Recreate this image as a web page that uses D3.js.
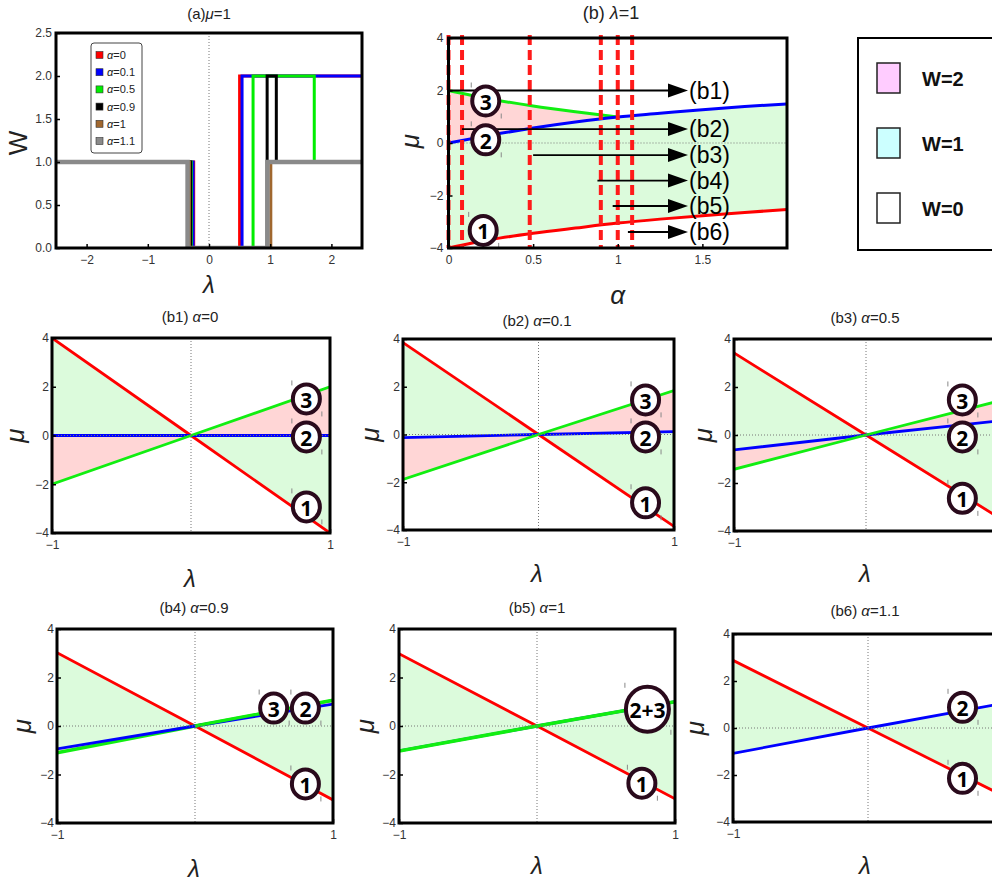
<!DOCTYPE html>
<html><head><meta charset="utf-8">
<script src="https://cdn.jsdelivr.net/npm/d3@7"></script>
<style>body{margin:0;background:#fff;} svg{display:block;}</style>
</head><body>
<svg id="c" width="992" height="880"></svg>
<script>
// ================= DATA =================
// Panel (a): W versus lambda (mu = 1), one step curve per alpha
const aAlphaLabels = ["0", "0.1", "0.5", "0.9", "1", "1.1"];
const aColors = ["#ff0000", "#0000ff", "#00ee00", "#000000", "#a0672f", "#8a8a8a"];
const aWidths = [3, 3, 3, 3, 3, 4.5];
const aAlpha0  = [[-2.5,1],[-0.25,1],[-0.25,0],[0.5,0],[0.5,2],[2.5,2]];
const aAlpha01 = [[-2.5,1],[-0.26,1],[-0.26,0],[0.54,0],[0.54,2],[2.5,2]];
const aAlpha05 = [[-2.5,1],[-0.29,1],[-0.29,0],[0.72,0],[0.72,2],[1.72,2],[1.72,1],[2.5,1]];
const aAlpha09 = [[-2.5,1],[-0.3,1],[-0.3,0],[0.95,0],[0.95,2],[1.1,2],[1.1,1],[2.5,1]];
const aAlpha1  = [[-2.5,1],[-0.32,1],[-0.32,0],[1.01,0],[1.01,1],[2.5,1]];
const aAlpha11 = [[-2.5,1],[-0.35,1],[-0.35,0],[0.955,0],[0.955,1],[2.5,1]];
const aSeries = [aAlpha0, aAlpha01, aAlpha05, aAlpha09, aAlpha1, aAlpha11];
const aXTicks = [-2, -1, 0, 1, 2];
const aYTicks = [0, 0.5, 1, 1.5, 2, 2.5];

// Panel (b): phase boundaries versus alpha (lambda = 1)
const bAlpha   = [0, 0.25, 0.5, 0.75, 1, 1.25, 1.5, 1.75, 2];
const bRed     = [-4, -3.68, -3.44, -3.24, -3.05, -2.9, -2.77, -2.65, -2.53];
const bBlue    = [0, 0.3, 0.57, 0.8, 0.99, 1.13, 1.27, 1.39, 1.49];
const bGreenAlpha = [0, 0.25, 0.5, 0.75, 1];
const bGreen   = [2, 1.67, 1.41, 1.19, 0.99];
const bDashedAlpha = [0, 0.08, 0.48, 0.9, 1.0, 1.085];
const bArrowStart = [0, 0.08, 0.5, 0.88, 0.97, 1.06];
const bArrowMu    = [2, 0.53, -0.46, -1.43, -2.4, -3.39];
const bArrowEnd   = 1.415;
const bArrowLabels = ["(b1)", "(b2)", "(b3)", "(b4)", "(b5)", "(b6)"];
const bXTicks = [0, 0.5, 1, 1.5];
const bYTicks = [-4, -2, 0, 2, 4];
const bCircles = [{l:"3", a:0.22, m:1.6}, {l:"2", a:0.22, m:0.12}, {l:"1", a:0.205, m:-3.33}];

// Panels (b1)-(b6): lines mu(lambda) at lambda = -1, 0, 1
const lamPts = [-1, 0, 1];
const subAlpha = ["0", "0.1", "0.5", "0.9", "1", "1.1"];
const subRed   = [[4,0,-4], [3.85,0,-3.85], [3.42,0,-3.42], [3.02,0,-3.05], [2.98,0,-3], [2.88,0,-2.88]];
const subBlue  = [[0,0,0], [-0.13,0,0.12], [-0.62,0,0.58], [-0.94,0,0.9], [-1.03,0,1.0], [-1.08,0,1.05]];
const subGreen = [[-2,0,2], [-1.88,0,1.84], [-1.43,0,1.41], [-1.1,0,1.06], [-1.03,0,1.0], null];
const subCircles = [
  [{l:"3",x:0.83,y:1.5},{l:"2",x:0.83,y:-0.06},{l:"1",x:0.83,y:-2.93}],
  [{l:"3",x:0.79,y:1.45},{l:"2",x:0.79,y:-0.1},{l:"1",x:0.79,y:-2.86}],
  [{l:"3",x:0.73,y:1.46},{l:"2",x:0.73,y:-0.08},{l:"1",x:0.73,y:-2.64}],
  [{l:"3",x:0.57,y:0.74},{l:"2",x:0.8,y:0.74},{l:"1",x:0.8,y:-2.39}],
  [{l:"2+3",x:0.8,y:0.69,big:true},{l:"1",x:0.76,y:-2.36}],
  [{l:"2",x:0.7,y:0.88},{l:"1",x:0.7,y:-2.14}]
];
const subXTicksFull = [-1, 1];
const subXTicksCut = [-1];
const subYTicks = [-4, -2, 0, 2, 4];

// Legend (right)
const legLabels = ["W=2", "W=1", "W=0"];
const legColors = ["#ffccff", "#ccffff", "#ffffff"];

// ================= STYLE =================
const FONT = "'Liberation Sans', Arial, sans-serif";
const FILL_G = "#dcfbdc", FILL_P = "#ffd6d6";
const C_RED = "#ff0000", C_BLUE = "#0000ff", C_GREEN = "#11ee11";
const svg = d3.select("#c");

function panel(x0, y0, w, h, xd, yd) {
  return {x0, y0, w, h,
    xs: d3.scaleLinear().domain(xd).range([x0, x0 + w]),
    ys: d3.scaleLinear().domain(yd).range([y0 + h, y0])};
}
let clipId = 0;
function clipG(P) {
  const id = "clip" + (clipId++);
  svg.append("clipPath").attr("id", id).append("rect")
    .attr("x", P.x0).attr("y", P.y0).attr("width", P.w).attr("height", P.h);
  return svg.append("g").attr("clip-path", `url(#${id})`);
}
function frame(P) {
  svg.append("rect").attr("x", P.x0).attr("y", P.y0).attr("width", P.w).attr("height", P.h)
    .attr("fill", "none").attr("stroke", "#000").attr("stroke-width", 3);
}
function axes(P, xt, yt, xf, yf, xpad, ypad) {
  const gx = svg.append("g").attr("transform", `translate(0,${P.y0 + P.h})`)
    .call(d3.axisBottom(P.xs).tickValues(xt).tickSize(-4).tickPadding(xpad).tickFormat(xf));
  const gy = svg.append("g").attr("transform", `translate(${P.x0},0)`)
    .call(d3.axisLeft(P.ys).tickValues(yt).tickSize(-4).tickPadding(ypad).tickFormat(yf));
  [gx, gy].forEach(g => {
    g.select(".domain").remove();
    g.selectAll("line").attr("stroke", "#000").attr("stroke-width", 1.5);
    g.selectAll("text").attr("font-family", FONT).attr("font-size", 12).attr("fill", "#333");
  });
}
function dotted(g, x1, y1, x2, y2) {
  g.append("line").attr("x1", x1).attr("y1", y1).attr("x2", x2).attr("y2", y2)
    .attr("stroke", "#777").attr("stroke-width", 1).attr("stroke-dasharray", "1,2");
}
function richText(x, y, parts, size, anchor) {
  const t = svg.append("text").attr("x", x).attr("y", y).attr("font-family", FONT)
    .attr("font-size", size).attr("fill", "#222").attr("text-anchor", anchor || "middle");
  parts.forEach(p => t.append("tspan").text(p[0]).attr("font-style", p[1] ? "italic" : "normal"));
  return t;
}
function axisLabel(x, y, txt, size, rotate) {
  const t = svg.append("text").attr("font-family", FONT).attr("font-size", size)
    .attr("font-style", txt === "W" ? "normal" : "italic").attr("fill", "#222")
    .attr("text-anchor", "middle").attr("dominant-baseline", "central").text(txt);
  if (rotate) t.attr("transform", `translate(${x},${y}) rotate(-90)`);
  else t.attr("x", x).attr("y", y);
}
function circleMark(cx, cy, label, big) {
  const rx = big ? 21.5 : 13.5, ry = big ? 22.5 : 14.5;
  svg.append("line").attr("x1", cx - rx - 1).attr("x2", cx - rx - 1).attr("y1", cy - ry - 4).attr("y2", cy - ry + 1)
    .attr("stroke", "#888").attr("stroke-width", 1);
  svg.append("line").attr("x1", cx + rx + 2).attr("x2", cx + rx + 2).attr("y1", cy + ry - 2).attr("y2", cy + ry + 3)
    .attr("stroke", "#888").attr("stroke-width", 1);
  svg.append("ellipse").attr("cx", cx).attr("cy", cy).attr("rx", rx).attr("ry", ry)
    .attr("fill", "#fff").attr("stroke", "#2a0a1c").attr("stroke-width", 4);
  svg.append("text").attr("x", cx).attr("y", cy + 1).attr("text-anchor", "middle")
    .attr("dominant-baseline", "central").attr("font-family", "'Open Sans', sans-serif")
    .attr("font-weight", "bold").attr("font-size", big ? 21 : 21).attr("fill", "#000").text(label);
}

// ================= PANEL (a) =================
{
  const P = panel(56, 33, 306, 215, [-2.5, 2.5], [0, 2.5]);
  const g = clipG(P);
  dotted(g, P.xs(0), P.y0, P.xs(0), P.y0 + P.h);
  const line = d3.line().x(d => P.xs(d[0])).y(d => P.ys(d[1]));
  aSeries.forEach((s, i) => {
    g.append("path").attr("d", line(s)).attr("fill", "none")
      .attr("stroke", aColors[i]).attr("stroke-width", aWidths[i]).attr("stroke-linejoin", "miter");
  });
  frame(P);
  axes(P, aXTicks, aYTicks, d3.format("d"), d3.format(".1f"), 7, 4);
  richText(P.xs(0), 19, [["(a)", 0], ["μ", 1], ["=1", 0]], 15);
  axisLabel(18, 143, "W", 26, true);
  axisLabel(P.xs(0), 284, "λ", 24, false);
  // legend
  const lg = svg.append("g");
  lg.append("rect").attr("x", 91).attr("y", 43).attr("width", 51).attr("height", 110).attr("rx", 3)
    .attr("fill", "#fff").attr("stroke", "#444").attr("stroke-width", 1);
  aAlphaLabels.forEach((lab, i) => {
    const y = 55 + i * 17.2;
    lg.append("rect").attr("x", 96).attr("y", y - 3.5).attr("width", 7).attr("height", 7)
      .attr("fill", aColors[i]).attr("stroke", "#333").attr("stroke-width", 0.6);
    const t = lg.append("text").attr("x", 107).attr("y", y).attr("dominant-baseline", "central")
      .attr("font-family", FONT).attr("font-size", 11).attr("fill", "#222");
    t.append("tspan").attr("font-style", "italic").text("α");
    t.append("tspan").text("=" + lab);
  });
}

// ================= PANEL (b) =================
{
  const P = panel(448.5, 38, 338.5, 210, [0, 2], [-4, 4]);
  const g = clipG(P);
  const idx = d3.range(bAlpha.length), idxG = d3.range(bGreenAlpha.length);
  const areaRB = d3.area().curve(d3.curveMonotoneX).x(i => P.xs(bAlpha[i])).y0(i => P.ys(bRed[i])).y1(i => P.ys(bBlue[i]));
  const areaBG = d3.area().curve(d3.curveMonotoneX).x(i => P.xs(bGreenAlpha[i])).y0(i => P.ys(bBlue[i])).y1(i => P.ys(bGreen[i]));
  g.append("path").attr("d", areaRB(idx)).attr("fill", FILL_G);
  g.append("path").attr("d", areaBG(idxG)).attr("fill", FILL_P);
  dotted(g, P.x0, P.ys(0), P.x0 + P.w, P.ys(0));
  const mk = (xa, ya) => d3.line().curve(d3.curveMonotoneX).x(i => P.xs(xa[i])).y(i => P.ys(ya[i]));
  g.append("path").attr("d", mk(bAlpha, bRed)(idx)).attr("fill", "none").attr("stroke", C_RED).attr("stroke-width", 3);
  g.append("path").attr("d", mk(bGreenAlpha, bGreen)(idxG)).attr("fill", "none").attr("stroke", C_GREEN).attr("stroke-width", 3);
  g.append("path").attr("d", mk(bAlpha, bBlue)(idx)).attr("fill", "none").attr("stroke", C_BLUE).attr("stroke-width", 3);
  // dashed verticals
  bDashedAlpha.forEach(a => {
    svg.append("line").attr("x1", P.xs(a)).attr("x2", P.xs(a)).attr("y1", P.y0 - 3).attr("y2", P.y0 + P.h)
      .attr("stroke", "#ff1a1a").attr("stroke-width", 4).attr("stroke-dasharray", "10,5");
  });
  // arrows
  bArrowStart.forEach((a, i) => {
    const y = P.ys(bArrowMu[i]), xe = P.xs(bArrowEnd);
    svg.append("line").attr("x1", P.xs(a)).attr("x2", xe - 18).attr("y1", y).attr("y2", y)
      .attr("stroke", "#000").attr("stroke-width", 1.8);
    svg.append("path").attr("d", `M${xe},${y} L${xe - 20},${y - 7} L${xe - 20},${y + 7} Z`).attr("fill", "#000");
    svg.append("text").attr("x", xe + 1).attr("y", y).attr("dominant-baseline", "central")
      .attr("font-family", FONT).attr("font-size", 23).attr("fill", "#000").text(bArrowLabels[i]);
  });
  bCircles.forEach(c => circleMark(P.xs(c.a), P.ys(c.m), c.l, false));
  frame(P);
  axes(P, bXTicks, bYTicks, d3.format("~g"), d3.format("d"), 7, 5);
  richText(P.xs(0.96), 19, [["(b) ", 0], ["λ", 1], ["=1", 0]], 18);
  axisLabel(410, 141, "μ", 26, true);
  axisLabel(P.xs(1), 295, "α", 26, false);
}

// ================= RIGHT LEGEND =================
{
  svg.append("rect").attr("x", 858).attr("y", 38).attr("width", 150).attr("height", 212)
    .attr("fill", "#fff").attr("stroke", "#000").attr("stroke-width", 2);
  legLabels.forEach((lab, i) => {
    const y = 63 + i * 65;
    svg.append("rect").attr("x", 877).attr("y", y).attr("width", 23).attr("height", 30)
      .attr("fill", legColors[i]).attr("stroke", "#222").attr("stroke-width", 1.5);
    svg.append("text").attr("x", 922).attr("y", y + 16).attr("dominant-baseline", "central")
      .attr("font-family", FONT).attr("font-weight", "bold").attr("font-size", 20).attr("fill", "#111").text(lab);
  });
}

// ================= PANELS (b1)-(b6) =================
const subFrames = [
  {x:52, y:338, w:278, h:195, tx:190, ty:322, lx:190, ly:578, mx:15},
  {x:403, y:339, w:271, h:191, tx:537, ty:326, lx:537, ly:573, mx:370},
  {x:734, y:339, w:264, h:192, tx:865, ty:323, lx:865, ly:573, mx:703},
  {x:57, y:629, w:276, h:194, tx:194, ty:613, lx:194, ly:868, mx:22},
  {x:399, y:629, w:276, h:194, tx:537, ty:613, lx:537, ly:865, mx:365},
  {x:733, y:634, w:270, h:188, tx:865, ty:616, lx:865, ly:865, mx:695}
];
subFrames.forEach((F, k) => {
  const P = panel(F.x, F.y, F.w, F.h, [-1, 1], [-4, 4]);
  const g = clipG(P);
  const idx = d3.range(lamPts.length);
  const red = subRed[k], blue = subBlue[k], green = subGreen[k];
  g.append("path").attr("d", d3.area().x(i => P.xs(lamPts[i])).y0(i => P.ys(red[i])).y1(i => P.ys(blue[i]))(idx)).attr("fill", FILL_G);
  if (green) g.append("path").attr("d", d3.area().x(i => P.xs(lamPts[i])).y0(i => P.ys(blue[i])).y1(i => P.ys(green[i]))(idx)).attr("fill", FILL_P);
  const ln = ys => d3.line().x(i => P.xs(lamPts[i])).y(i => P.ys(ys[i]))(idx);
  g.append("path").attr("d", ln(red)).attr("fill", "none").attr("stroke", C_RED).attr("stroke-width", 2.8);
  if (k === 3) {
    g.append("path").attr("d", ln(green)).attr("fill", "none").attr("stroke", C_GREEN).attr("stroke-width", 3.5);
    g.append("path").attr("d", ln(blue)).attr("fill", "none").attr("stroke", C_BLUE).attr("stroke-width", 2.8);
    g.append("path").attr("d", d3.line().x(i => P.xs(lamPts[i])).y(i => P.ys(green[i]))([1, 2])).attr("fill", "none").attr("stroke", C_GREEN).attr("stroke-width", 2.8);
  } else {
    g.append("path").attr("d", ln(blue)).attr("fill", "none").attr("stroke", C_BLUE).attr("stroke-width", 2.8);
    if (green) g.append("path").attr("d", ln(green)).attr("fill", "none").attr("stroke", C_GREEN).attr("stroke-width", k === 4 ? 3.5 : 2.8);
  }
  dotted(g, P.xs(0), P.y0, P.xs(0), P.y0 + P.h);
  dotted(g, P.x0, P.ys(0), P.x0 + P.w, P.ys(0));
  subCircles[k].forEach(c => circleMark(P.xs(c.x), P.ys(c.y), c.l, !!c.big));
  frame(P);
  const xt = (F.x + F.w > 990) ? subXTicksCut : subXTicksFull;
  axes(P, xt, subYTicks, d3.format("d"), d3.format("d"), 7, 3);
  richText(F.tx, F.ty, [["(b" + (k + 1) + ") ", 0], ["α", 1], ["=" + subAlpha[k], 0]], 15);
  axisLabel(F.mx, (F.y + F.h / 2), "μ", 26, true);
  axisLabel(F.lx, F.ly, "λ", 24, false);
});
</script>
</body></html>
